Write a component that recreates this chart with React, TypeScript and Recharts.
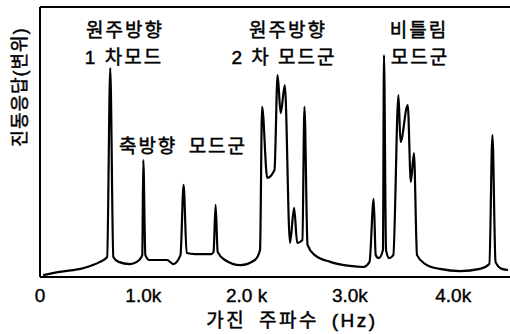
import { LineChart, Line, XAxis, YAxis, ReferenceLine } from "recharts";

// excitation frequency (Hz) and displacement response (relative, 0-100)
const FREQS = [
  30, 190, 420, 580, 650, 680, 710, 760, 870, 960, 990, 1000, 1020, 1060, 1230, 1290,
  1360, 1390, 1420, 1500, 1660, 1680, 1700, 1720, 1790, 1940, 2080, 2130, 2150, 2200,
  2270, 2300, 2330, 2370, 2420, 2460, 2490, 2540, 2560, 2590, 2660, 2810, 3000, 3130,
  3190, 3230, 3250, 3280, 3320, 3330, 3350, 3380, 3420, 3470, 3490, 3560, 3590, 3620,
  3650, 3730, 3870, 4070, 4260, 4350, 4380, 4410, 4470, 4530,
];
const RESPONSE = [
  0.7, 1.9, 3.3, 5.6, 7.4, 77.4, 7.4, 5.6, 4.8, 6.3, 8.1, 43.3, 8.1, 6.3, 6.3, 4.8,
  8.1, 34.1, 8.9, 8.5, 8.5, 9.3, 26.7, 9.3, 6.3, 4.4, 6.3, 10, 63, 36.7,
  39.6, 74.8, 60.7, 71.1, 12.6, 25.6, 12.6, 13.7, 63, 11.9, 8.1, 5.6, 4.1, 3.7,
  5.6, 28.9, 8.1, 7, 10, 82.2, 10, 7, 8.1, 67.4, 50, 63.7, 35.2, 45.9,
  8.1, 4.8, 3, 2.2, 3, 4.8, 52.6, 5.6, 3, 2.6,
];

const TICK_VALUES = [0, 1000, 2000, 3000, 4000];
const TICK_LABELS = ["0", "1.0k", "2.0 k", "3.0k", "4.0k"];

const X_TITLE = "가진 주파수  (Hz)";
const Y_TITLE = "진동응답(변위)";

const data = FREQS.map((f, i) => ({ f, v: RESPONSE[i] }));

const FONT = "'Liberation Sans', 'Noto Sans CJK KR', sans-serif";

export default function App() {
  // scanned lettering is a bit heavier than the regular face
  const note = {
    fontFamily: FONT,
    fontSize: 19,
    fill: "#000",
    stroke: "#000",
    strokeWidth: 0.5,
    letterSpacing: 2,
  } as const;
  return (
    <div style={{ position: "fixed", left: 0, top: 0, width: 510, height: 334, background: "#fff" }}>
      <LineChart width={510} height={334} data={data} margin={{ top: 7, right: 0, bottom: 0, left: 0 }}>
        <XAxis
          dataKey="f"
          type="number"
          domain={[0, 4550]}
          ticks={TICK_VALUES}
          tickFormatter={(v) => TICK_LABELS[TICK_VALUES.indexOf(v)] ?? ""}
          tickLine={false}
          tickMargin={6}
          height={57}
          axisLine={{ stroke: "#000", strokeWidth: 2 }}
          tick={{ fill: "#000", stroke: "#000", strokeWidth: 0.4, fontSize: 19, fontFamily: FONT }}
          interval={0}
        />
        <YAxis
          type="number"
          domain={[0, 100]}
          width={40}
          tick={false}
          tickLine={false}
          axisLine={{ stroke: "#000", strokeWidth: 2 }}
        />
        <ReferenceLine y={100} stroke="#000" strokeWidth={2} />
        <Line
          type="monotone"
          dataKey="v"
          stroke="#000"
          strokeWidth={2.2}
          dot={false}
          isAnimationActive={false}
        />
      </LineChart>
      <svg
        width={510}
        height={334}
        style={{ position: "absolute", left: 0, top: 0, pointerEvents: "none" }}
      >
        <text x={125} y={37} textAnchor="middle" {...note}>원주방향</text>
        <text x={124} y={64} textAnchor="middle" {...note}>1 차모드</text>
        <text x={183} y={153} textAnchor="middle" {...note} wordSpacing={4}>축방향 모드군</text>
        <text x={288} y={37} textAnchor="middle" {...note}>원주방향</text>
        <text x={284} y={64} textAnchor="middle" {...note}>2 차 모드군</text>
        <text x={419} y={37} textAnchor="middle" {...note}>비틀림</text>
        <text x={420} y={64} textAnchor="middle" {...note}>모드군</text>
        <text x={292} y={327} textAnchor="middle" {...note} letterSpacing={2.5} wordSpacing={5}>
          {X_TITLE}
        </text>
        <text
          x={20}
          y={87}
          textAnchor="middle"
          dominantBaseline="central"
          transform="rotate(-90 20 87)"
          {...note}
          fontSize={18}
          letterSpacing={1}
        >
          {Y_TITLE}
        </text>
      </svg>
    </div>
  );
}
